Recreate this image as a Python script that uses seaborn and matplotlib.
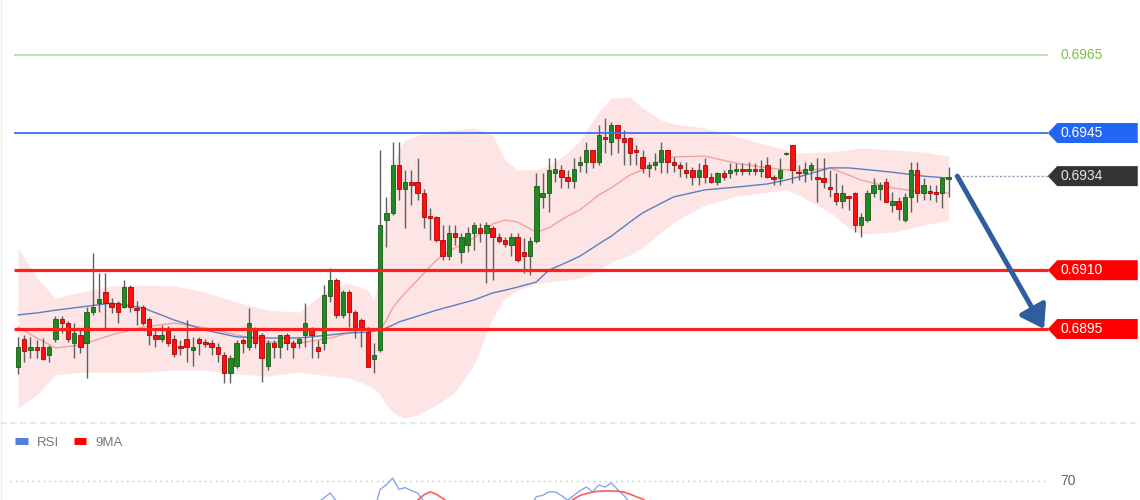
import matplotlib
matplotlib.use("Agg")
import matplotlib.pyplot as plt
import numpy as np
import pandas as pd
import seaborn as sns
from matplotlib.patches import Polygon
from matplotlib.lines import Line2D

# ---------------- candle data (price) ----------------
opens = [0.68853, 0.68924, 0.68896, 0.68904, 0.68904, 0.68884, 0.68924, 0.68976, 0.68965, 0.68914,
         0.68935, 0.68914, 0.68993, 0.69016, 0.69044, 0.69016, 0.69016, 0.69006, 0.69057, 0.69004,
         0.69006, 0.68976, 0.68935, 0.68924, 0.68947, 0.68924, 0.68907, 0.68924, 0.68896, 0.68924,
         0.68917, 0.68914, 0.68904, 0.68884, 0.68838, 0.68856, 0.68922, 0.68904, 0.68947, 0.68935,
         0.68856, 0.68914, 0.68904, 0.68935, 0.68914, 0.68914, 0.68935, 0.68947, 0.68904, 0.68914,
         0.69034, 0.69075, 0.68986, 0.69044, 0.68993, 0.68973, 0.68942, 0.68874, 0.68896, 0.69228,
         0.69246, 0.69368, 0.69307, 0.69325, 0.69325, 0.69297, 0.69238, 0.69236, 0.69177, 0.69136,
         0.69195, 0.69146, 0.69164, 0.69195, 0.69208, 0.69195, 0.69208, 0.69185, 0.69177, 0.69164,
         0.69185, 0.69146, 0.69136, 0.69174, 0.69287, 0.69297, 0.69348, 0.69356, 0.69338, 0.69328,
         0.69368, 0.69376, 0.69407, 0.69376, 0.69440, 0.69427, 0.69470, 0.69437, 0.69437, 0.69407,
         0.69389, 0.69361, 0.69368, 0.69376, 0.69407, 0.69376, 0.69368, 0.69356, 0.69356, 0.69338,
         0.69368, 0.69338, 0.69325, 0.69348, 0.69348, 0.69353, 0.69358, 0.69353, 0.69358, 0.69353,
         0.69368, 0.69338, 0.69335, 0.69396, 0.69419, 0.69350, 0.69348, 0.69356, 0.69338, 0.69335,
         0.69312, 0.69297, 0.69277, 0.69289, 0.69297, 0.69215, 0.69228, 0.69297, 0.69307, 0.69325,
         0.69266, 0.69277, 0.69228, 0.69287, 0.69356, 0.69297, 0.69302, 0.69299, 0.69297, 0.69333]
highs = [0.68930, 0.68935, 0.68930, 0.68922, 0.68927, 0.68909, 0.68983, 0.68983, 0.68970, 0.68965,
         0.68947, 0.69006, 0.69144, 0.69093, 0.69093, 0.69029, 0.69021, 0.69075, 0.69062, 0.69021,
         0.69011, 0.68981, 0.68953, 0.68960, 0.68958, 0.68935, 0.68922, 0.68973, 0.68930, 0.68930,
         0.68924, 0.68922, 0.68914, 0.68891, 0.68884, 0.68922, 0.68927, 0.69004, 0.68955, 0.68940,
         0.68922, 0.68922, 0.68935, 0.68940, 0.68922, 0.68930, 0.69016, 0.68955, 0.68922, 0.69062,
         0.69106, 0.69080, 0.69049, 0.69049, 0.68998, 0.68978, 0.68955, 0.68914, 0.69407, 0.69287,
         0.69427, 0.69427, 0.69356, 0.69356, 0.69386, 0.69307, 0.69259, 0.69238, 0.69215, 0.69215,
         0.69215, 0.69195, 0.69210, 0.69223, 0.69220, 0.69223, 0.69213, 0.69195, 0.69185, 0.69195,
         0.69195, 0.69182, 0.69185, 0.69348, 0.69348, 0.69386, 0.69386, 0.69368, 0.69356, 0.69386,
         0.69391, 0.69427, 0.69407, 0.69470, 0.69488, 0.69478, 0.69470, 0.69458, 0.69440, 0.69419,
         0.69407, 0.69376, 0.69399, 0.69427, 0.69407, 0.69389, 0.69376, 0.69376, 0.69363, 0.69373,
         0.69386, 0.69348, 0.69350, 0.69356, 0.69373, 0.69373, 0.69373, 0.69376, 0.69373, 0.69381,
         0.69389, 0.69343, 0.69386, 0.69402, 0.69419, 0.69368, 0.69376, 0.69376, 0.69386, 0.69386,
         0.69356, 0.69348, 0.69317, 0.69289, 0.69299, 0.69246, 0.69305, 0.69335, 0.69325, 0.69335,
         0.69299, 0.69287, 0.69297, 0.69376, 0.69376, 0.69335, 0.69317, 0.69317, 0.69338, 0.69363]
lows = [0.68835, 0.68866, 0.68876, 0.68876, 0.68871, 0.68866, 0.68917, 0.68940, 0.68917, 0.68876,
        0.68889, 0.68825, 0.68986, 0.68993, 0.68947, 0.68991, 0.68965, 0.69004, 0.68993, 0.68960,
        0.68960, 0.68909, 0.68904, 0.68917, 0.68907, 0.68879, 0.68884, 0.68866, 0.68856, 0.68884,
        0.68904, 0.68884, 0.68866, 0.68812, 0.68812, 0.68851, 0.68889, 0.68896, 0.68902, 0.68815,
        0.68845, 0.68876, 0.68876, 0.68896, 0.68876, 0.68902, 0.68904, 0.68876, 0.68876, 0.68896,
        0.69019, 0.68978, 0.68978, 0.68955, 0.68927, 0.68904, 0.68853, 0.68838, 0.68891, 0.69159,
        0.69241, 0.69279, 0.69208, 0.69266, 0.69279, 0.69208, 0.69177, 0.69172, 0.69126, 0.69126,
        0.69164, 0.69118, 0.69146, 0.69152, 0.69172, 0.69067, 0.69075, 0.69169, 0.69159, 0.69136,
        0.69121, 0.69093, 0.69088, 0.69169, 0.69259, 0.69248, 0.69325, 0.69310, 0.69310, 0.69310,
        0.69350, 0.69348, 0.69361, 0.69368, 0.69399, 0.69394, 0.69399, 0.69368, 0.69368, 0.69368,
        0.69348, 0.69338, 0.69356, 0.69348, 0.69348, 0.69350, 0.69338, 0.69335, 0.69317, 0.69317,
        0.69322, 0.69322, 0.69317, 0.69330, 0.69335, 0.69343, 0.69343, 0.69343, 0.69343, 0.69338,
        0.69335, 0.69317, 0.69317, 0.69394, 0.69322, 0.69330, 0.69325, 0.69330, 0.69274, 0.69310,
        0.69287, 0.69266, 0.69259, 0.69254, 0.69197, 0.69185, 0.69223, 0.69287, 0.69279, 0.69274,
        0.69248, 0.69228, 0.69223, 0.69248, 0.69274, 0.69279, 0.69279, 0.69274, 0.69259, 0.69287]
closes = [0.68904, 0.68894, 0.68904, 0.68896, 0.68874, 0.68904, 0.68976, 0.68965, 0.68924, 0.68940,
          0.68904, 0.68993, 0.69006, 0.69027, 0.69016, 0.69006, 0.68993, 0.69057, 0.69006, 0.68998,
          0.68965, 0.68935, 0.68924, 0.68935, 0.68914, 0.68886, 0.68902, 0.68904, 0.68904, 0.68914,
          0.68912, 0.68904, 0.68886, 0.68838, 0.68876, 0.68914, 0.68914, 0.68965, 0.68914, 0.68876,
          0.68914, 0.68904, 0.68935, 0.68914, 0.68904, 0.68924, 0.68965, 0.68935, 0.68894, 0.69037,
          0.69075, 0.68986, 0.69044, 0.68993, 0.68955, 0.68955, 0.68853, 0.68884, 0.69215, 0.69246,
          0.69368, 0.69307, 0.69325, 0.69317, 0.69297, 0.69236, 0.69233, 0.69177, 0.69136, 0.69195,
          0.69185, 0.69185, 0.69195, 0.69215, 0.69195, 0.69215, 0.69185, 0.69174, 0.69167, 0.69185,
          0.69126, 0.69136, 0.69174, 0.69315, 0.69297, 0.69356, 0.69358, 0.69338, 0.69328, 0.69358,
          0.69376, 0.69407, 0.69376, 0.69445, 0.69435, 0.69470, 0.69437, 0.69427, 0.69399, 0.69402,
          0.69361, 0.69368, 0.69376, 0.69407, 0.69376, 0.69368, 0.69361, 0.69348, 0.69338, 0.69356,
          0.69338, 0.69325, 0.69348, 0.69338, 0.69356, 0.69358, 0.69353, 0.69358, 0.69353, 0.69358,
          0.69338, 0.69333, 0.69356, 0.69399, 0.69356, 0.69348, 0.69358, 0.69368, 0.69333, 0.69325,
          0.69307, 0.69277, 0.69297, 0.69284, 0.69215, 0.69236, 0.69297, 0.69317, 0.69317, 0.69274,
          0.69277, 0.69256, 0.69287, 0.69356, 0.69297, 0.69317, 0.69297, 0.69294, 0.69335, 0.69338]

# ---------------- indicator lines (read at candle indices) ----------------
band_idx = [0, 3, 6, 10, 15, 20, 25, 30, 35, 40, 45, 50, 53, 56, 57, 58, 59, 60, 61, 62,
            64, 67, 70, 73, 76, 78, 80, 83, 85, 88, 90, 93, 95, 98, 100, 103, 105, 110, 115, 120,
            123, 125, 130, 133, 135, 140, 145, 149]
upper_band = [0.69157, 0.69080, 0.69029, 0.69044, 0.69060, 0.69062, 0.69060, 0.69044, 0.69019, 0.68998,
              0.68993, 0.69055, 0.69067, 0.69049, 0.69024, 0.69100, 0.69241, 0.69356, 0.69407, 0.69432,
              0.69445, 0.69453, 0.69458, 0.69463, 0.69445, 0.69381, 0.69356, 0.69356, 0.69366, 0.69399,
              0.69432, 0.69504, 0.69539, 0.69542, 0.69514, 0.69483, 0.69473, 0.69463, 0.69442, 0.69419,
              0.69407, 0.69399, 0.69402, 0.69407, 0.69412, 0.69407, 0.69402, 0.69391]
lower_band = [0.68748, 0.68782, 0.68833, 0.68840, 0.68840, 0.68840, 0.68845, 0.68845, 0.68835, 0.68830,
              0.68840, 0.68830, 0.68825, 0.68807, 0.68799, 0.68782, 0.68756, 0.68738, 0.68728, 0.68723,
              0.68731, 0.68756, 0.68789, 0.68858, 0.68978, 0.69029, 0.69049, 0.69065, 0.69070, 0.69075,
              0.69080, 0.69100, 0.69121, 0.69139, 0.69157, 0.69197, 0.69223, 0.69266, 0.69289, 0.69299,
              0.69305, 0.69292, 0.69248, 0.69208, 0.69192, 0.69197, 0.69215, 0.69228]
mid_line = [0.68955, 0.68927, 0.68902, 0.68909, 0.68935, 0.68955, 0.68965, 0.68953, 0.68935, 0.68917,
            0.68914, 0.68927, 0.68940, 0.68953, 0.68947, 0.68947, 0.68973, 0.69004, 0.69024, 0.69042,
            0.69075, 0.69126, 0.69157, 0.69182, 0.69218, 0.69228, 0.69223, 0.69197, 0.69208, 0.69238,
            0.69254, 0.69292, 0.69310, 0.69343, 0.69356, 0.69381, 0.69389, 0.69391, 0.69373, 0.69361,
            0.69356, 0.69353, 0.69361, 0.69343, 0.69330, 0.69310, 0.69299, 0.69297]
slow_line = [0.68986, 0.68991, 0.68998, 0.69006, 0.69016, 0.69004, 0.68973, 0.68947, 0.68930, 0.68927,
             0.68927, 0.68935, 0.68940, 0.68942, 0.68945, 0.68947, 0.68953, 0.68960, 0.68968, 0.68973,
             0.68983, 0.68998, 0.69011, 0.69024, 0.69042, 0.69049, 0.69057, 0.69070, 0.69100, 0.69121,
             0.69136, 0.69167, 0.69187, 0.69223, 0.69246, 0.69271, 0.69287, 0.69305, 0.69312, 0.69320,
             0.69330, 0.69338, 0.69361, 0.69361, 0.69358, 0.69350, 0.69340, 0.69335]

# ---------------- levels ----------------
level_values = [0.6965, 0.6945, 0.6934, 0.6910, 0.6895]
level_labels = ["0.6965", "0.6945", "0.6934", "0.6910", "0.6895"]
arrow_start = (150.4, 0.6934)
arrow_end = (164.3, 0.6895)

# ---------------- RSI panel (visible parts only) ----------------
rsi_segments = [
    ([47, 48, 49, 50, 51, 52], [48, 52, 56, 60, 53, 48]),
    ([56, 57, 58, 59, 60, 61, 62, 63, 64, 65, 66], [44, 45, 63, 67, 72.5, 63, 64.5, 62, 60, 53, 48]),
    ([81, 82, 83, 84, 85, 86, 87, 88, 89, 90, 91, 92, 93, 94, 95, 96, 97, 98, 99],
     [44, 48, 57, 58, 61, 61, 58, 54, 58, 62, 65, 61, 66.7, 65, 68.3, 63, 58, 52, 48]),
]
ma9_segments = [
    ([62, 63, 64, 65, 66, 67, 68, 69, 70], [46, 50, 54, 58.5, 61, 59, 55.5, 52, 48]),
    ([86, 87, 88, 89, 90, 91, 92, 93, 94, 95, 96, 97, 98, 99, 100, 101, 102, 103],
     [46, 49, 52, 55, 58, 59.5, 60.8, 61.5, 61.7, 61.7, 61.5, 60.8, 59, 57, 55, 52, 49, 46]),
]
rsi_ref = 70

# ---------------- drawing ----------------
sns.set_theme(style="white")
plt.rcParams["font.family"] = ["Liberation Sans", "DejaVu Sans"]

fig = plt.figure(figsize=(11.4, 5), dpi=100)
fig.patch.set_facecolor("white")
ax = fig.add_axes([0, 0.156, 1, 0.844])
rax = fig.add_axes([0, 0, 1, 0.15])

XLIM = (-2.88, 179.66)
YLIM = (0.687128, 0.697893)
ax.set_xlim(*XLIM)
ax.set_ylim(*YLIM)

bands = pd.DataFrame({"i": band_idx, "upper": upper_band, "lower": lower_band,
                      "mid": mid_line, "slow": slow_line})
ax.fill_between(bands["i"], bands["lower"], bands["upper"], color="#fde5e5", lw=0, zorder=1)
sns.lineplot(data=bands, x="i", y="mid", ax=ax, color="#f5a0a0", lw=1.0, zorder=2)
sns.lineplot(data=bands, x="i", y="slow", ax=ax, color="#5a7fbf", lw=1.0, zorder=2)

o = np.array(opens); h = np.array(highs); l = np.array(lows); c = np.array(closes)
idx = np.arange(len(c))
up = c >= o
ax.vlines(idx, l, h, color="#5e5e5e", lw=1.0, zorder=3)
blo = np.minimum(o, c)
bh = np.abs(c - o)
ax.bar(idx[up], bh[up], bottom=blo[up], width=0.7, color="#1f8a1f",
       edgecolor="#1a5a1a", lw=0.6, zorder=4)
ax.bar(idx[~up], bh[~up], bottom=blo[~up], width=0.7, color="#ff1010",
       edgecolor="#b00000", lw=0.6, zorder=4)

x_line0, x_line1 = -0.6, 164.9
label_x = 166.9
tip_x, shoulder_x, right_x = 164.9, 166.4, 179.3
hh = 10 * (YLIM[1] - YLIM[0]) / 422.0

styles = {
    "0.6965": dict(line="#bfe4ae", lw=1.4, ls="-", box=None, txt="#7cbf48"),
    "0.6945": dict(line="#3b6ff2", lw=1.3, ls="-", box="#2266f4", txt="white"),
    "0.6934": dict(line="#8a9bb5", lw=1.0, ls=(0, (1.5, 1.5)), box="#333333", txt="#e6e6e6"),
    "0.6910": dict(line="#ff1f1f", lw=2.3, ls="-", box="#ff0000", txt="white"),
    "0.6895": dict(line="#ff1f1f", lw=2.3, ls="-", box="#ff0000", txt="white"),
}
for val, lab in zip(level_values, level_labels):
    st = styles[lab]
    x0 = 151.2 if lab == "0.6934" else x_line0
    ax.hlines(val, x0, x_line1, color=st["line"], lw=st["lw"], linestyles=st["ls"], zorder=5)
    if st["box"] is not None:
        poly = Polygon([(tip_x, val), (shoulder_x, val + hh), (right_x, val + hh),
                        (right_x, val - hh), (shoulder_x, val - hh)],
                       closed=True, facecolor=st["box"], edgecolor="none", zorder=6)
        ax.add_patch(poly)
    ax.text(label_x, val, lab, color=st["txt"], fontsize=10, va="center", ha="left", zorder=7)

ax.annotate("", xy=arrow_end, xytext=arrow_start,
            arrowprops=dict(arrowstyle="-|>,head_length=0.9,head_width=0.6", color="#2f5e9e",
                            lw=3.6, mutation_scale=15, shrinkA=0, shrinkB=0), zorder=8)
ax.set_axis_off()

# RSI panel
rax.set_xlim(*XLIM)
rax.set_ylim(54.2, 116.7)
for xs, ys in rsi_segments:
    rax.plot(xs, ys, color="#86a6ea", lw=1.0, zorder=3)
for xs, ys in ma9_segments:
    rax.plot(xs, ys, color="#ff5a5a", lw=1.2, zorder=3)
rax.hlines(rsi_ref, -1.3, 164.6, color="#bdbdbd", lw=1.0, linestyles=(0, (1, 3)), zorder=2)
rax.text(label_x, rsi_ref, str(rsi_ref), color="#666666", fontsize=10, va="center", ha="left")
handles = [Line2D([0], [0], color="#4f7fe0", lw=5, solid_capstyle="butt"),
           Line2D([0], [0], color="#ff0000", lw=5, solid_capstyle="butt")]
rax.legend(handles, ["RSI", "9MA"], loc="upper left", bbox_to_anchor=(0.003, 1.0), ncol=2,
           frameon=False, fontsize=9.5, handlelength=0.95, handletextpad=0.7,
           columnspacing=1.1, labelcolor="#777777")
rax.set_axis_off()

# separators
fig.add_artist(Line2D([0, 1], [0.155, 0.155], color="#dfe5ec", lw=1.2, ls=(0, (4, 2))))
fig.add_artist(Line2D([0.001, 0.001], [0, 1], color="#ececec", lw=1.0))

fig.savefig("out.png", dpi=100, facecolor="white")
